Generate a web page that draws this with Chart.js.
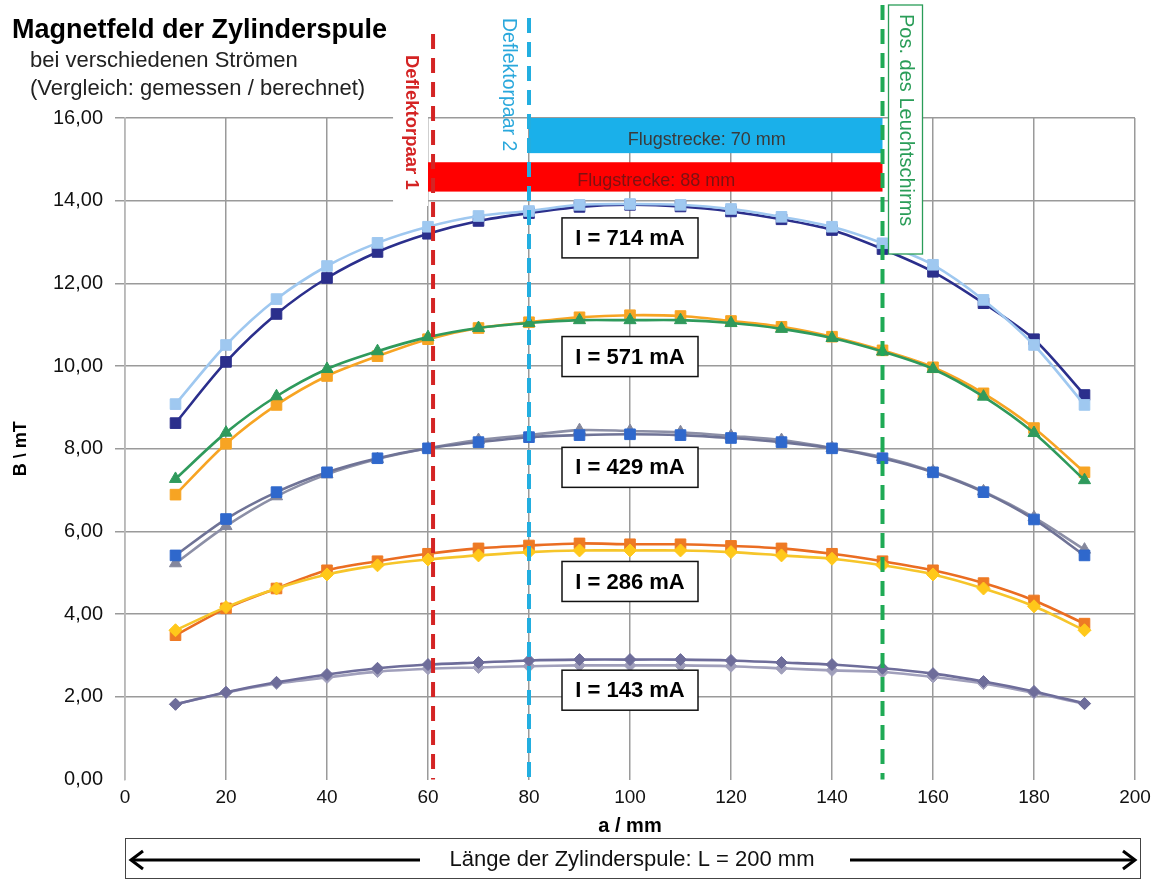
<!DOCTYPE html>
<html>
<head>
<meta charset="utf-8">
<script src="https://cdn.jsdelivr.net/npm/chart.js@4.4.1/dist/chart.umd.min.js"></script>
<style>
  html, body { margin: 0; padding: 0; background: #ffffff; }
  #wrap { width: 1165px; height: 881px; }
</style>
</head>
<body>
<div id="wrap"><canvas id="c" width="1165" height="881"></canvas></div>
<script>
// Position along the coil axis, a / mm
const positions = [10, 20, 30, 40, 50, 60, 70, 80, 90, 100, 110, 120, 130, 140, 150, 160, 170, 180, 190];

// Magnetic flux density B / mT for each coil current
const b714a = [9.08, 10.51, 11.62, 12.42, 12.98, 13.37, 13.63, 13.75, 13.90, 13.92, 13.90, 13.80, 13.61, 13.37, 12.97, 12.45, 11.60, 10.51, 9.06];
const b714b = [8.62, 10.10, 11.26, 12.13, 12.76, 13.20, 13.51, 13.70, 13.85, 13.90, 13.86, 13.74, 13.55, 13.29, 12.83, 12.28, 11.52, 10.65, 9.30];
const b571a = [7.27, 8.39, 9.27, 9.93, 10.36, 10.70, 10.92, 11.04, 11.11, 11.11, 11.11, 11.04, 10.90, 10.68, 10.35, 9.93, 9.26, 8.38, 7.24];
const b571b = [6.89, 8.12, 9.06, 9.76, 10.24, 10.65, 10.92, 11.06, 11.18, 11.23, 11.21, 11.09, 10.95, 10.71, 10.38, 9.97, 9.34, 8.50, 7.43];
const b429a = [5.42, 6.30, 6.95, 7.43, 7.77, 8.01, 8.16, 8.28, 8.33, 8.35, 8.33, 8.26, 8.16, 8.01, 7.77, 7.43, 6.95, 6.29, 5.42];
const b429b = [5.23, 6.13, 6.85, 7.38, 7.75, 8.01, 8.21, 8.33, 8.45, 8.43, 8.40, 8.31, 8.21, 8.02, 7.80, 7.45, 6.97, 6.34, 5.56];
const b286a = [3.61, 4.17, 4.62, 4.96, 5.18, 5.32, 5.42, 5.50, 5.54, 5.54, 5.54, 5.50, 5.42, 5.34, 5.18, 4.96, 4.62, 4.19, 3.61];
const b286b = [3.49, 4.14, 4.62, 5.06, 5.28, 5.46, 5.59, 5.66, 5.71, 5.69, 5.69, 5.65, 5.59, 5.46, 5.28, 5.06, 4.75, 4.33, 3.77];
const b143a = [1.82, 2.11, 2.35, 2.54, 2.69, 2.78, 2.83, 2.88, 2.90, 2.90, 2.90, 2.88, 2.83, 2.78, 2.69, 2.56, 2.37, 2.13, 1.84];
const b143b = [1.82, 2.10, 2.32, 2.47, 2.61, 2.68, 2.71, 2.74, 2.76, 2.76, 2.76, 2.74, 2.69, 2.64, 2.60, 2.48, 2.32, 2.09, 1.83];

// Current labels and the B value each label box is centred on
const currentLabels = ['I = 714 mA', 'I = 571 mA', 'I = 429 mA', 'I = 286 mA', 'I = 143 mA'];
const currentLabelB = [13.10, 10.23, 7.55, 4.79, 2.16];

// Deflector / screen positions along the axis (mm)
const markerNames = ['Deflektorpaar 1', 'Deflektorpaar 2', 'Pos. des Leuchtschirms'];
const markerPos = [61, 80, 150];

// Flight paths to the screen
const flightNames = ['Flugstrecke: 70 mm', 'Flugstrecke: 88 mm'];
const flightFrom = [80, 60];
const flightTo = [150, 150];
const flightB = [[16.0, 15.15], [14.93, 14.22]];

// Axis ticks
const xTicks = [0, 20, 40, 60, 80, 100, 120, 140, 160, 180, 200];
const yTicks = [0, 2, 4, 6, 8, 10, 12, 14, 16];
const yTickLabels = ['0,00', '2,00', '4,00', '6,00', '8,00', '10,00', '12,00', '14,00', '16,00'];

const FONT = '"Liberation Sans", Arial, sans-serif';

function pts(values) {
  return positions.map((x, i) => ({ x: x, y: values[i] }));
}

function series(label, values, line, fill, style, radius) {
  return {
    label: label,
    data: pts(values),
    borderColor: line,
    backgroundColor: fill,
    pointBackgroundColor: fill,
    pointBorderColor: fill,
    pointStyle: style,
    pointRadius: radius,
    pointHoverRadius: radius,
    pointBorderWidth: 1,
    borderWidth: 2.6,
    tension: 0.3,
    fill: false
  };
}

const datasets = [
  series('714 mA berechnet', b714a, '#9fc8f0', '#9fc8f0', 'rect', 7.5),
  series('714 mA gemessen', b714b, '#2b2f8c', '#2b2f8c', 'rect', 7.5),
  series('571 mA berechnet', b571a, '#2f9a5c', '#2f9a5c', 'triangle', 7),
  series('571 mA gemessen', b571b, '#f7a423', '#f7a423', 'rect', 7.5),
  series('429 mA gemessen', b429a, '#6f7396', '#2f68cc', 'rect', 7.5),
  series('429 mA berechnet', b429b, '#8c8fa6', '#84879c', 'triangle', 7),
  series('286 mA berechnet', b286a, '#f6c52a', '#ffc81a', 'rectRot', 6.5),
  series('286 mA gemessen', b286b, '#ea6d22', '#ee7a24', 'rect', 7.5),
  series('143 mA gemessen', b143a, '#6e6d9a', '#6e6d9a', 'rectRot', 6),
  series('143 mA berechnet', b143b, '#a09fbb', '#a09fbb', 'rectRot', 6)
];

function vText(ctx, text, cx, top, font, color) {
  ctx.save();
  ctx.translate(cx, top);
  ctx.rotate(Math.PI / 2);
  ctx.font = font;
  ctx.fillStyle = color;
  ctx.textAlign = 'left';
  ctx.textBaseline = 'middle';
  ctx.fillText(text, 0, 0);
  ctx.restore();
}

const overlay = {
  id: 'overlay',
  beforeDatasetsDraw(chart) {
    const ctx = chart.ctx;
    const xs = chart.scales.x;
    // white backing behind the first deflector caption
    const xr = xs.getPixelForValue(markerPos[0]);
    ctx.save();
    ctx.fillStyle = '#ffffff';
    ctx.fillRect(xr - 40, 28, 35, 178);
    ctx.restore();
  },
  afterDatasetsDraw(chart) {
    const ctx = chart.ctx;
    const xs = chart.scales.x;
    const ys = chart.scales.y;
    const area = chart.chartArea;

    // flight path bars
    const barColors = ['#1ab0ea', '#ff0000'];
    const barText = ['#3a3a3a', '#7d1212'];
    for (let i = 0; i < flightNames.length; i++) {
      const x0 = xs.getPixelForValue(flightFrom[i]);
      const x1 = xs.getPixelForValue(flightTo[i]);
      const y0 = ys.getPixelForValue(flightB[i][0]);
      const y1 = ys.getPixelForValue(flightB[i][1]);
      ctx.save();
      ctx.fillStyle = barColors[i];
      ctx.fillRect(x0, y0, x1 - x0, y1 - y0);
      ctx.font = '18px ' + FONT;
      ctx.fillStyle = barText[i];
      ctx.textAlign = 'center';
      ctx.textBaseline = 'middle';
      ctx.fillText(flightNames[i], (x0 + x1) / 2 + 1, (y0 + y1) / 2 + 4);
      ctx.restore();
    }

    // dashed position markers
    const dashColors = ['#d42424', '#22aee0', '#1faa55'];
    const dashTop = [34, 18, 5];
    ctx.save();
    ctx.lineWidth = 4;
    ctx.setLineDash([15, 9]);
    for (let i = 0; i < markerPos.length; i++) {
      const x = xs.getPixelForValue(markerPos[i]);
      ctx.strokeStyle = dashColors[i];
      ctx.beginPath();
      ctx.moveTo(x, dashTop[i]);
      ctx.lineTo(x, area.bottom);
      ctx.stroke();
    }
    ctx.restore();

    // marker captions
    const xRed = xs.getPixelForValue(markerPos[0]);
    const xBlue = xs.getPixelForValue(markerPos[1]);
    const xGreen = xs.getPixelForValue(markerPos[2]);
    vText(ctx, markerNames[0], xRed - 22, 55, 'bold 18.5px ' + FONT, '#d42424');
    vText(ctx, markerNames[1], xBlue - 21, 18, '19.5px ' + FONT, '#2aa8dc');
    ctx.save();
    ctx.fillStyle = '#ffffff';
    ctx.strokeStyle = '#2a9d58';
    ctx.lineWidth = 1.3;
    ctx.fillRect(xGreen + 6, 5, 34, 249);
    ctx.strokeRect(xGreen + 6, 5, 34, 249);
    ctx.restore();
    vText(ctx, markerNames[2], xGreen + 23, 14, '20px ' + FONT, '#2a9d58');

    // current label boxes
    const cx = xs.getPixelForValue(100);
    ctx.save();
    for (let i = 0; i < currentLabels.length; i++) {
      const cy = ys.getPixelForValue(currentLabelB[i]);
      ctx.fillStyle = '#ffffff';
      ctx.fillRect(cx - 68, cy - 20, 136, 40);
      ctx.strokeStyle = '#111111';
      ctx.lineWidth = 1.5;
      ctx.strokeRect(cx - 68, cy - 20, 136, 40);
      ctx.fillStyle = '#000000';
      ctx.font = 'bold 22px ' + FONT;
      ctx.textAlign = 'center';
      ctx.textBaseline = 'middle';
      ctx.fillText(currentLabels[i], cx, cy + 1);
    }
    ctx.restore();
  },
  afterDraw(chart) {
    const ctx = chart.ctx;
    const area = chart.chartArea;
    ctx.save();
    ctx.fillStyle = '#000000';
    ctx.textAlign = 'left';
    ctx.textBaseline = 'alphabetic';
    ctx.font = 'bold 27px ' + FONT;
    ctx.fillText('Magnetfeld der Zylinderspule', 12, 38);
    ctx.fillStyle = '#222222';
    ctx.font = '22px ' + FONT;
    ctx.fillText('bei verschiedenen Strömen', 30, 67);
    ctx.fillText('(Vergleich: gemessen / berechnet)', 30, 95);

    // coil length box with arrows
    const left = area.left;
    const right = area.right + 5;
    ctx.strokeStyle = '#444444';
    ctx.lineWidth = 1;
    ctx.strokeRect(left + 0.5, 838.5, right - left, 40);
    const midY = 860;
    ctx.strokeStyle = '#000000';
    ctx.lineWidth = 3;
    ctx.beginPath();
    ctx.moveTo(left + 6, midY); ctx.lineTo(left + 295, midY);
    ctx.moveTo(right - 290, midY); ctx.lineTo(right - 5, midY);
    ctx.stroke();
    ctx.beginPath();
    ctx.moveTo(left + 18, midY - 9); ctx.lineTo(left + 6, midY); ctx.lineTo(left + 18, midY + 9);
    ctx.moveTo(right - 17, midY - 9); ctx.lineTo(right - 5, midY); ctx.lineTo(right - 17, midY + 9);
    ctx.stroke();
    ctx.fillStyle = '#111111';
    ctx.font = '22px ' + FONT;
    ctx.textAlign = 'center';
    ctx.textBaseline = 'middle';
    ctx.fillText('Länge der Zylinderspule: L = 200 mm', 632, midY);
    ctx.restore();
  }
};

new Chart(document.getElementById('c'), {
  type: 'line',
  data: { datasets: datasets },
  plugins: [overlay],
  options: {
    responsive: false,
    animation: false,
    events: [],
    layout: { padding: { left: 0, right: 30, top: 118, bottom: 41.5 } },
    plugins: { legend: { display: false }, tooltip: { enabled: false }, title: { display: false } },
    scales: {
      x: {
        type: 'linear',
        min: 0,
        max: 200,
        afterBuildTicks(s) { s.ticks = xTicks.map(v => ({ value: v })); },
        afterFit(s) { s.height = 60; },
        grid: { color: '#9a9a9a', lineWidth: 1.5, drawTicks: false },
        border: { display: false },
        ticks: { color: '#111111', font: { family: FONT, size: 19 }, padding: 7, maxRotation: 0, autoSkip: false },
        title: { display: true, text: 'a / mm', color: '#000000', font: { family: FONT, size: 20, weight: 'bold' }, padding: { top: 0, bottom: 1 } }
      },
      y: {
        type: 'linear',
        min: 0,
        max: 16,
        afterBuildTicks(s) { s.ticks = yTicks.map(v => ({ value: v })); },
        afterFit(s) { s.width = 125; },
        grid: {
          color: ctx => (ctx.tick && ctx.tick.value === 0) ? 'rgba(0,0,0,0)' : '#9a9a9a',
          lineWidth: 1.5,
          tickLength: 10
        },
        border: { display: true, color: '#b8b8b8', width: 1.5 },
        ticks: {
          color: '#111111',
          font: { family: FONT, size: 20 },
          padding: 12,
          autoSkip: false,
          callback: (v, i) => yTickLabels[i]
        },
        title: { display: true, text: 'B \\ mT', color: '#000000', font: { family: FONT, size: 18, weight: 'bold' }, padding: { top: 10, bottom: 0 } }
      }
    }
  }
});
</script>
</body>
</html>
